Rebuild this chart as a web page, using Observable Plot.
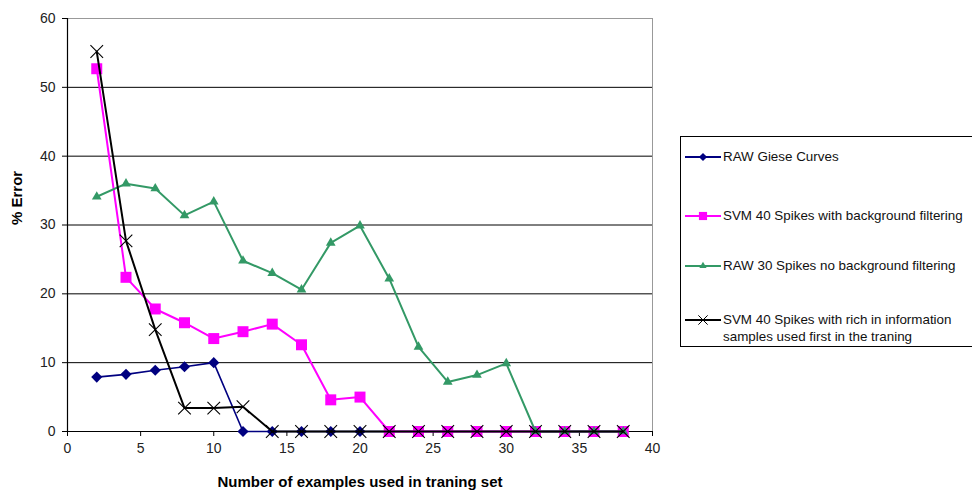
<!DOCTYPE html>
<html><head>
<meta charset="utf-8">
<script src="https://cdn.jsdelivr.net/npm/d3@7"></script>
<script src="https://cdn.jsdelivr.net/npm/@observablehq/plot@0.6"></script>
<style>
body{margin:0;background:#fff;font-family:"Liberation Sans",Arial,sans-serif}
#wrap{position:relative;width:972px;height:498px;overflow:hidden}
#legend{position:absolute;left:680px;top:136px;width:320px;height:211px;border:1px solid #000;box-sizing:border-box;background:#fff;font-size:13.4px;color:#111}
.row{position:absolute;left:4px;display:flex;align-items:flex-start;white-space:nowrap}
.row svg{flex:none;margin-top:1px}
.row span{margin-left:2px;line-height:17px}
</style></head><body>
<div id="wrap"></div>
<script>
// ---- data ----
const examples = [2,4,6,8,10,12,14,16,18,20,22,24,26,28,30,32,34,36,38];
const seriesNames = [
  "RAW Giese Curves",
  "SVM 40 Spikes with background filtering",
  "RAW 30 Spikes no background filtering",
  "SVM 40 Spikes with rich in information samples used first in the traning"
];
const rawGiese   = [7.9, 8.3, 8.9, 9.4, 10.0, 0, 0, 0, 0, 0, 0, 0, 0, 0, 0, 0, 0, 0, 0];
const svmBg      = [52.7, 22.4, 17.8, 15.8, 13.5, 14.5, 15.6, 12.6, 4.6, 5.0, 0, 0, 0, 0, 0, 0, 0, 0, 0];
const raw30      = [34.1, 36.0, 35.3, 31.4, 33.4, 24.8, 23.0, 20.6, 27.4, 29.9, 22.2, 12.3, 7.2, 8.2, 9.9, 0, 0, 0, 0];
const svmRich    = [55.2, 27.7, 14.8, 3.4, 3.4, 3.6, 0, 0, 0, 0, 0, 0, 0, 0, 0, 0, 0, 0, 0];
const xTicks = [0,5,10,15,20,25,30,35,40];
const yTicks = [0,10,20,30,40,50,60];
const xTitle = "Number of examples used in traning set";
const yTitle = "% Error";

// ---- styles ----
const styles = [
  {color:"#000080", symbol:"diamond2", r:5.0, filled:true,  d3sym:d3.symbolDiamond2, lw:1.6},
  {color:"#ff00ff", symbol:"square",   r:6.2, filled:true,  d3sym:d3.symbolSquare,   lw:2},
  {color:"#339966", symbol:"triangle", r:3.6, filled:true,  d3sym:d3.symbolTriangle, lw:2},
  {color:"#000000", symbol:"times",    r:5.8, filled:false, d3sym:d3.symbolTimes,    lw:2}
];
const allSeries = [rawGiese, svmBg, raw30, svmRich];
const tables = allSeries.map((vals, i) => examples.map((x, j) => ({x, y: vals[j], s: seriesNames[i]})));

const marks = [
  Plot.ruleY(yTicks.filter(t => t > 0 && t < 60), {stroke:"#000", strokeWidth:1}),
  Plot.ruleY([60], {stroke:"#999", strokeWidth:1}),
  Plot.ruleX([40], {y1:0, y2:60, stroke:"#999", strokeWidth:1}),
  Plot.axisX({ticks:xTicks, tickSize:5, tickPadding:7, fontSize:14, label:null, tickFormat:d=>d, stroke:"#000"}),
  Plot.axisY({ticks:yTicks, tickSize:5, tickPadding:7, fontSize:14, label:null, tickFormat:d=>d, stroke:"#000"}),
  Plot.ruleX([0], {y1:0, y2:60, stroke:"#000", strokeWidth:1.2}),
  Plot.ruleY([0], {stroke:"#000", strokeWidth:1.2})
];
tables.forEach((t, i) => {
  const st = styles[i];
  marks.push(Plot.line(t, {x:"x", y:"y", stroke:st.color, strokeWidth:st.lw}));
  marks.push(Plot.dot(t, st.filled
    ? {x:"x", y:"y", symbol:()=>st.symbol, r:st.r, fill:st.color, stroke:"none"}
    : {x:"x", y:"y", symbol:()=>st.symbol, r:st.r, stroke:st.color, strokeWidth:1.1, fill:"none"}));
});
marks.push(Plot.text([xTitle], {text:d=>d, frameAnchor:"bottom", dy:55, fontSize:15, fontWeight:"bold", fill:"#000"}));
marks.push(Plot.text([yTitle], {text:d=>d, frameAnchor:"left", dx:-50, rotate:-90, fontSize:15, fontWeight:"bold", fill:"#000"}));

const chart = Plot.plot({
  width:972, height:498,
  marginLeft:67, marginRight:320, marginTop:18, marginBottom:67,
  style:{fontFamily:"'Liberation Sans', Arial, sans-serif", fontSize:"14px", background:"#fff", color:"#222"},
  x:{domain:[0,40]},
  y:{domain:[0,60]},
  symbol:{type:"identity"},
  marks
});
const wrap = document.getElementById("wrap");
wrap.appendChild(chart);

// ---- legend (overlay, to the right of plot area) ----
const legend = document.createElement("div");
legend.id = "legend";
const rowTops = [11, 70, 120, 174];
const legendLabels = [
  ["RAW Giese Curves"],
  ["SVM 40 Spikes with background filtering"],
  ["RAW 30 Spikes no background filtering"],
  ["SVM 40 Spikes with rich in information", "samples used first in the traning"]
];
legendLabels.forEach((lines, i) => {
  const st = styles[i];
  const row = document.createElement("div");
  row.className = "row";
  row.style.top = rowTops[i] + "px";
  const sz = st.r * st.r * Math.PI * 0.55;
  const path = d3.symbol(st.d3sym, sz)();
  row.innerHTML =
    `<svg width="36" height="16"><line x1="0" x2="36" y1="8" y2="8" stroke="${st.color}" stroke-width="2"/>` +
    `<path transform="translate(18,8)" d="${path}" fill="${st.filled ? st.color : "none"}" stroke="${st.filled ? "none" : st.color}" stroke-width="1"/></svg>` +
    `<span>${lines.join("<br>")}</span>`;
  legend.appendChild(row);
});
wrap.appendChild(legend);
</script>
</body></html>
